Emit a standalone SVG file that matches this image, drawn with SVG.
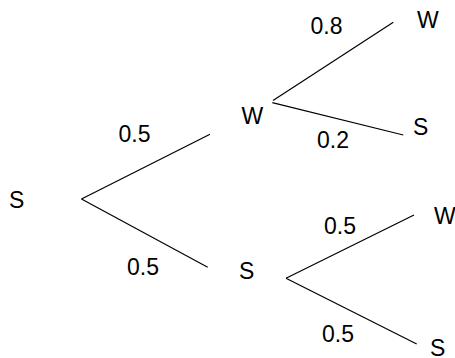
<svg xmlns="http://www.w3.org/2000/svg" width="455" height="358" viewBox="0 0 455 358">
<style>
text{font-family:"Liberation Sans",Arial,sans-serif;font-size:23px;fill:#000}
.e{stroke:#000;stroke-width:1.2;fill:none}
</style>
<rect width="455" height="358" fill="#fff"/>
<g id="connectors">
<line class="e" x1="81.5" y1="199" x2="210" y2="134.3"/>
<line class="e" x1="81.5" y1="199" x2="207.7" y2="267.3"/>
<line class="e" x1="273" y1="100.5" x2="393.3" y2="22.3"/>
<line class="e" x1="272.3" y1="102.7" x2="403.3" y2="135"/>
<line class="e" x1="286" y1="278.3" x2="414" y2="215"/>
<line class="e" x1="286" y1="278.3" x2="416.7" y2="344"/>
<text x="118.5" y="141.5">0.5</text>
<text x="127" y="275">0.5</text>
<text x="310.5" y="33.5">0.8</text>
<text x="317" y="148">0.2</text>
<text x="324" y="234">0.5</text>
<text x="322" y="342">0.5</text>
</g>
<g id="n0"><text x="9" y="208">S</text></g>
<g id="n1"><text x="241.5" y="124">W</text></g>
<g id="n2"><text x="239" y="279">S</text></g>
<g id="n3"><text x="417" y="28">W</text></g>
<g id="n4"><text x="413" y="135">S</text></g>
<g id="n5"><text x="434" y="224">W</text></g>
<g id="n6"><text x="430" y="355.5">S</text></g>
</svg>
